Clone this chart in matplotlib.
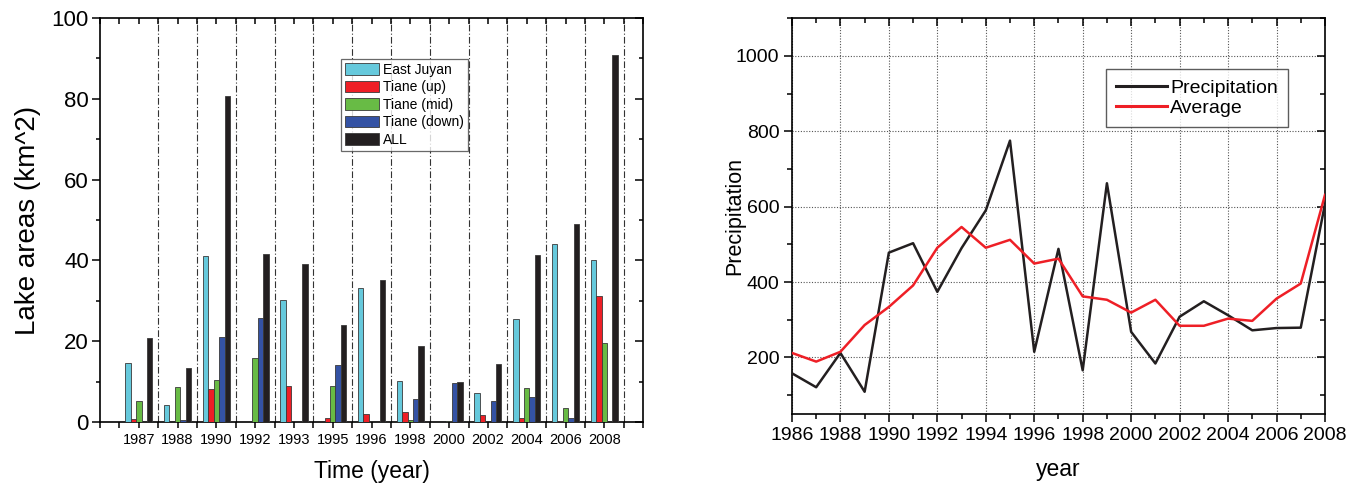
import numpy as np
import matplotlib
matplotlib.use('Agg')
import matplotlib.pyplot as plt
from matplotlib.ticker import MultipleLocator, FixedLocator


plt.rcParams['font.family'] = ['Liberation Sans', 'DejaVu Sans']

# left panel: lake areas by year
years = ['1987', '1988', '1990', '1992', '1993', '1995', '1996',
         '1998', '2000', '2002', '2004', '2006', '2008']
east_juyan = [14.6, 4.3, 41.0, 0, 30.1, 0, 33.2, 10.2, 0, 7.3, 25.4, 44.0, 40.1]
tiane_up = [0.8, 0, 8.1, 0, 8.8, 1.0, 1.9, 2.4, 0, 1.8, 1.1, 0.3, 31.2]
tiane_mid = [5.3, 8.6, 10.3, 15.9, 0, 8.9, 0, 0.4, 0.3, 0, 8.4, 3.5, 19.6]
tiane_down = [0, 0.4, 21.0, 25.7, 0, 14.0, 0, 5.8, 9.6, 5.3, 6.3, 0.9, 0]
all_lakes = [20.8, 13.4, 80.6, 41.7, 39.1, 24.0, 35.1, 18.8, 10.0, 14.4, 41.3, 49.0, 90.9]

series = [('East Juyan', east_juyan, '#66c9dc'),
          ('Tiane (up)', tiane_up, '#ee1f26'),
          ('Tiane (mid)', tiane_mid, '#68bb45'),
          ('Tiane (down)', tiane_down, '#3452a4'),
          ('ALL', all_lakes, '#231f20')]

# right panel: precipitation
p_years = list(range(1986, 2009))
precip = [158, 121, 212, 109, 478, 503, 374, 490, 590, 775, 215, 488, 166,
          662, 268, 184, 308, 349, 312, 272, 278, 279, 607]
average = [212, 189, 215, 286, 334, 391, 491, 546, 491, 512, 449, 462, 362,
           353, 319, 353, 284, 284, 303, 297, 356, 396, 631]


def ticks_in_top_right(ax):
    # origin-style: bottom/left ticks out, top/right ticks in
    for t in ax.xaxis.get_major_ticks() + ax.xaxis.get_minor_ticks():
        t.tick2line.set_marker(3)
    for t in ax.yaxis.get_major_ticks() + ax.yaxis.get_minor_ticks():
        t.tick2line.set_marker(0)


fig = plt.figure(figsize=(13.57, 4.84), dpi=100)
ax1 = fig.add_axes([0.0737, 0.128, 0.4002, 0.835])
ax2 = fig.add_axes([0.5836, 0.1446, 0.3928, 0.818])

# --- left: grouped bars
x = np.arange(1, len(years) + 1)
w = 0.14
for i, (name, vals, col) in enumerate(series):
    ax1.bar(x + (i - 2) * w, vals, w, color=col, edgecolor='#3a3a3a',
            linewidth=0.6, label=name, zorder=3)

for b in np.arange(1.5, len(years) + 1, 1.0):
    ax1.axvline(b, color='#333333', lw=0.8, ls=(0, (6, 2, 1, 2)), zorder=1)

ax1.set_xlim(0, 14)
ax1.set_ylim(0, 100)
ax1.xaxis.set_major_locator(FixedLocator(x))
ax1.xaxis.set_minor_locator(MultipleLocator(0.5))
ax1.set_xticklabels(years)
ax1.yaxis.set_major_locator(MultipleLocator(20))
ax1.yaxis.set_minor_locator(MultipleLocator(10))
ax1.tick_params(which='both', top=True, right=True, direction='out')
ax1.tick_params(axis='y', which='major', labelsize=16, length=6, width=1.1, pad=2)
ax1.tick_params(axis='y', which='minor', length=3, width=1.1)
ax1.tick_params(axis='x', which='both', labelsize=10.5, length=4, width=1.1, pad=4)
ticks_in_top_right(ax1)
ax1.set_ylabel('Lake areas (km^2)', fontsize=20)
ax1.set_xlabel('Time (year)', fontsize=16.5)
ax1.yaxis.set_label_coords(-0.108, 0.5)
ax1.xaxis.set_label_coords(0.5, -0.095)
for s in ax1.spines.values():
    s.set_linewidth(1.2)
leg1 = ax1.legend(loc='center', bbox_to_anchor=(0.561, 0.785), fontsize=10,
                  frameon=True, fancybox=False, edgecolor='#444444',
                  handlelength=2.4, handleheight=0.9, labelspacing=0.25,
                  handletextpad=0.3, borderpad=0.3, borderaxespad=0)
leg1.get_frame().set_linewidth(0.9)

# --- right: precipitation lines
ax2.plot(p_years, precip, color='#231f20', lw=1.8, label='Precipitation', zorder=3)
ax2.plot(p_years, average, color='#ee1f26', lw=1.8, label='Average', zorder=3)
ax2.set_xlim(1986, 2008)
ax2.set_ylim(50, 1100)
ax2.xaxis.set_major_locator(MultipleLocator(2))
ax2.xaxis.set_minor_locator(MultipleLocator(1))
ax2.set_yticks([200, 400, 600, 800, 1000])
ax2.yaxis.set_minor_locator(FixedLocator([100, 300, 500, 700, 900, 1100]))
ax2.grid(True, which='major', color='#555555', ls=(0, (1, 1.5)), lw=0.8, zorder=0)
ax2.tick_params(which='both', top=True, right=True, direction='out')
ax2.tick_params(which='major', labelsize=14, length=6, width=1.1, pad=3)
ax2.tick_params(which='minor', length=3.5, width=1.1)
ticks_in_top_right(ax2)
ax2.set_ylabel('Precipitation', fontsize=15.5)
ax2.set_xlabel('year', fontsize=16.5)
ax2.yaxis.set_label_coords(-0.088, 0.5)
ax2.xaxis.set_label_coords(0.5, -0.112)
for s in ax2.spines.values():
    s.set_linewidth(1.2)
leg2 = ax2.legend(loc='center', bbox_to_anchor=(0.760, 0.798), fontsize=14,
                  frameon=True, fancybox=False, edgecolor='#333333',
                  handlelength=2.6, labelspacing=0.1, handletextpad=0.15,
                  borderpad=0.55, borderaxespad=0)
leg2.get_frame().set_linewidth(1.0)
for ln in leg2.get_lines():
    ln.set_linewidth(2.2)

fig.savefig('out.png', dpi=100)
